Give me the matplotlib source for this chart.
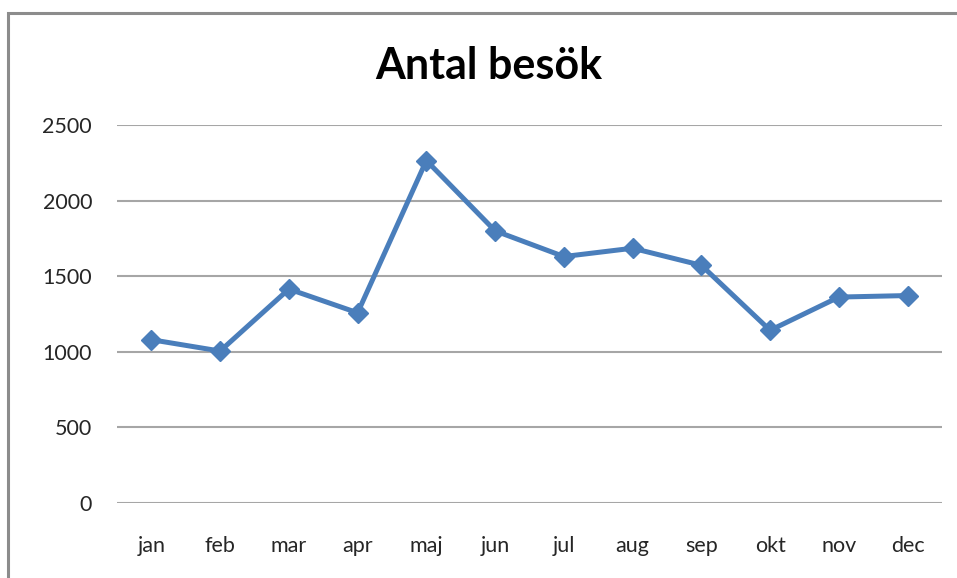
import matplotlib.pyplot as plt
from matplotlib.patches import Rectangle

# Data
manader = ['jan', 'feb', 'mar', 'apr', 'maj', 'jun', 'jul', 'aug', 'sep', 'okt', 'nov', 'dec']
besok = [1080, 1005, 1415, 1258, 2265, 1800, 1630, 1685, 1572, 1142, 1362, 1372]

plt.rcParams['font.family'] = ['Lato', 'DejaVu Sans']

W, H = 957, 578
fig = plt.figure(figsize=(W / 100, H / 100), dpi=100)

# Grå ram runt diagrammet
fig.patches.append(Rectangle((8 / W, -0.05), 1.1, 1 - 13 / H + 0.05,
                             transform=fig.transFigure, fill=False,
                             edgecolor='#8c8c8c', linewidth=2.2))

ax = fig.add_axes([117 / W, 1 - 503 / H, (942 - 117) / W, (503 - 125) / H])

x = range(len(manader))
ax.plot(x, besok, color='#4a7ebb', linewidth=3.6, marker='D', markersize=10.5,
        zorder=3)

ax.set_xlim(-0.5, len(manader) - 0.5)
ax.set_ylim(0, 2500)
ax.set_yticks(range(0, 2501, 500))
ax.set_xticks(list(x))
ax.set_xticklabels(manader)

ax.yaxis.grid(True, color='#a6a6a6', linewidth=1.5)
ax.set_axisbelow(True)
for s in ax.spines.values():
    s.set_visible(False)
ax.tick_params(length=0, labelsize=15.5, colors='#262626')
ax.tick_params(axis='x', pad=24)
ax.tick_params(axis='y', pad=18)

fig.text(489 / W, 1 - 66 / H, 'Antal besök', ha='center', va='center',
         fontsize=31, fontweight='bold', color='black')

fig.savefig('out.png', dpi=100)
